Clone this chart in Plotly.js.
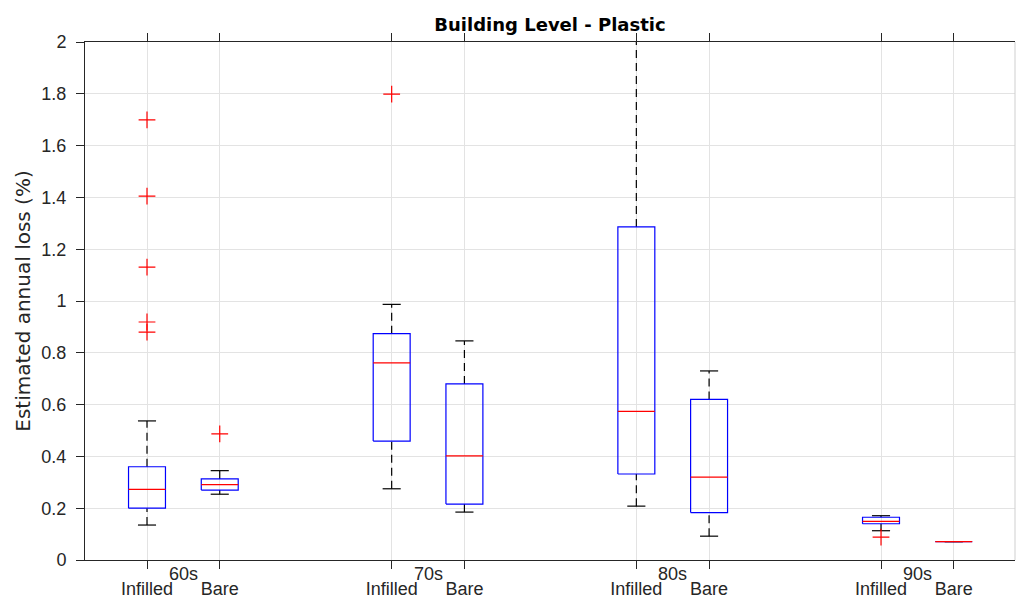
<!DOCTYPE html>
<html>
<head>
<meta charset="utf-8">
<script src="https://cdn.plot.ly/plotly-3.0.1.min.js"></script>
<style>html,body{margin:0;padding:0;background:#fff;}#chart{width:1016px;height:598px;}</style>
</head>
<body>
<div id="chart"></div>
<script>
// ---- data ----
const groups = ['60s', '70s', '80s', '90s'];
const types = ['Infilled', 'Bare'];

const infilledLow  = [0.135, 0.275, 0.208, 0.113];
const infilledQ1   = [0.200, 0.459, 0.332, 0.140];
const infilledMed  = [0.273, 0.761, 0.574, 0.149];
const infilledQ3   = [0.360, 0.874, 1.286, 0.165];
const infilledHigh = [0.537, 0.987, 2.300, 0.171];
const infilledOut  = [[0.880, 0.919, 1.131, 1.405, 1.699], [1.799], [], [0.088]];

const bareLow  = [0.254, 0.185, 0.092, 0.071];
const bareQ1   = [0.270, 0.216, 0.183, 0.071];
const bareMed  = [0.291, 0.402, 0.320, 0.071];
const bareQ3   = [0.313, 0.680, 0.620, 0.071];
const bareHigh = [0.345, 0.846, 0.730, 0.071];
const bareOut  = [[0.487], [], [], []];

const yTicks = [0, 0.2, 0.4, 0.6, 0.8, 1, 1.2, 1.4, 1.6, 1.8, 2];
const yTickText = ['0', '0.2', '0.4', '0.6', '0.8', '1', '1.2', '1.4', '1.6', '1.8', '2'];

// ---- layout constants ----
const PAIR_OFFSET = 0.2973;
const BOX_HALF = 0.0755;
const CAP_HALF = 0.037;
const FONT = 'Liberation Sans, Arial, sans-serif';
const TEXT = '#262626';

const series = [
  {low: infilledLow, q1: infilledQ1, med: infilledMed, q3: infilledQ3, high: infilledHigh, out: infilledOut},
  {low: bareLow, q1: bareQ1, med: bareMed, q3: bareQ3, high: bareHigh, out: bareOut}
];

const bx = [], by = [], mx = [], my = [], wx = [], wy = [], cx = [], cy = [], ox = [], oy = [];
const tickVals = [], tickText = [];
groups.forEach((g, gi) => {
  series.forEach((s, ti) => {
    const x = gi + ti * PAIR_OFFSET;
    tickVals.push(x); tickText.push(types[ti]);
    bx.push(x - BOX_HALF, x + BOX_HALF, x + BOX_HALF, x - BOX_HALF, x - BOX_HALF, null);
    by.push(s.q1[gi], s.q1[gi], s.q3[gi], s.q3[gi], s.q1[gi], null);
    mx.push(x - BOX_HALF, x + BOX_HALF, null);
    my.push(s.med[gi], s.med[gi], null);
    wx.push(x, x, null, x, x, null);
    wy.push(s.q3[gi], s.high[gi], null, s.low[gi], s.q1[gi], null);
    cx.push(x - CAP_HALF, x + CAP_HALF, null, x - CAP_HALF, x + CAP_HALF, null);
    cy.push(s.high[gi], s.high[gi], null, s.low[gi], s.low[gi], null);
    s.out[gi].forEach(v => { ox.push(x); oy.push(v); });
  });
});

const traces = [
  {x: wx, y: wy, mode: 'lines', line: {color: '#000000', width: 1.2, dash: '8px,5px'}, hoverinfo: 'skip', showlegend: false},
  {x: cx, y: cy, mode: 'lines', line: {color: '#000000', width: 1.2}, hoverinfo: 'skip', showlegend: false},
  {x: bx, y: by, mode: 'lines', line: {color: '#0000ff', width: 1.2}, hoverinfo: 'skip', showlegend: false},
  {x: mx, y: my, mode: 'lines', line: {color: '#ff0000', width: 1.2}, hoverinfo: 'skip', showlegend: false},
  {x: ox, y: oy, mode: 'markers', marker: {symbol: 'cross-thin-open', size: 12, color: '#ff0000', line: {color: '#ff0000', width: 1.2}}, hoverinfo: 'skip', showlegend: false, cliponaxis: true}
];

const annotations = groups.map((g, gi) => ({
  x: gi + PAIR_OFFSET / 2, xref: 'x', y: 0, yref: 'paper',
  yshift: -14, text: g, showarrow: false, xanchor: 'center', yanchor: 'middle',
  font: {family: FONT, size: 18, color: TEXT}
}));

const layout = {
  width: 1016, height: 598,
  margin: {l: 85, r: 1, t: 42, b: 38},
  paper_bgcolor: '#ffffff', plot_bgcolor: '#ffffff',
  title: {text: '<b>Building Level - Plastic</b>', x: 0.5, xref: 'paper', xanchor: 'center',
          y: 1 - 25 / 598, yref: 'container', yanchor: 'middle',
          font: {family: 'DejaVu Sans, sans-serif', size: 18, color: '#000000'}},
  xaxis: {
    showline: true, linecolor: TEXT, linewidth: 1, mirror: 'ticks',
    ticks: 'outside', ticklen: 8, tickcolor: TEXT, tickwidth: 1,
    showgrid: true, gridcolor: '#e3e3e3', gridwidth: 1, zeroline: false,
    tickfont: {family: FONT, size: 18, color: TEXT},
    range: [-0.2534, 3.5476], tickmode: 'array', tickvals: tickVals, ticktext: tickText,
    ticklabelstandoff: 4, fixedrange: true
  },
  yaxis: {
    showline: true, linecolor: TEXT, linewidth: 1, mirror: false,
    ticks: 'outside', ticklen: 8, tickcolor: TEXT, tickwidth: 1,
    showgrid: true, gridcolor: '#e3e3e3', gridwidth: 1, zeroline: false,
    tickfont: {family: FONT, size: 18, color: TEXT},
    range: [0, 2], tickmode: 'array', tickvals: yTicks, ticktext: yTickText,
    ticklabelstandoff: 6,
    title: {text: 'Estimated annual loss (%)', standoff: 5,
            font: {family: 'DejaVu Sans, sans-serif', size: 20, color: TEXT}},
    fixedrange: true
  },
  shapes: [{type: 'line', xref: 'paper', yref: 'paper', x0: 1, x1: 1, y0: 0, y1: 1,
            line: {color: '#cfcfcf', width: 1}}],
  annotations: annotations,
  showlegend: false
};

Plotly.newPlot('chart', traces, layout, {staticPlot: true});
</script>
</body>
</html>
